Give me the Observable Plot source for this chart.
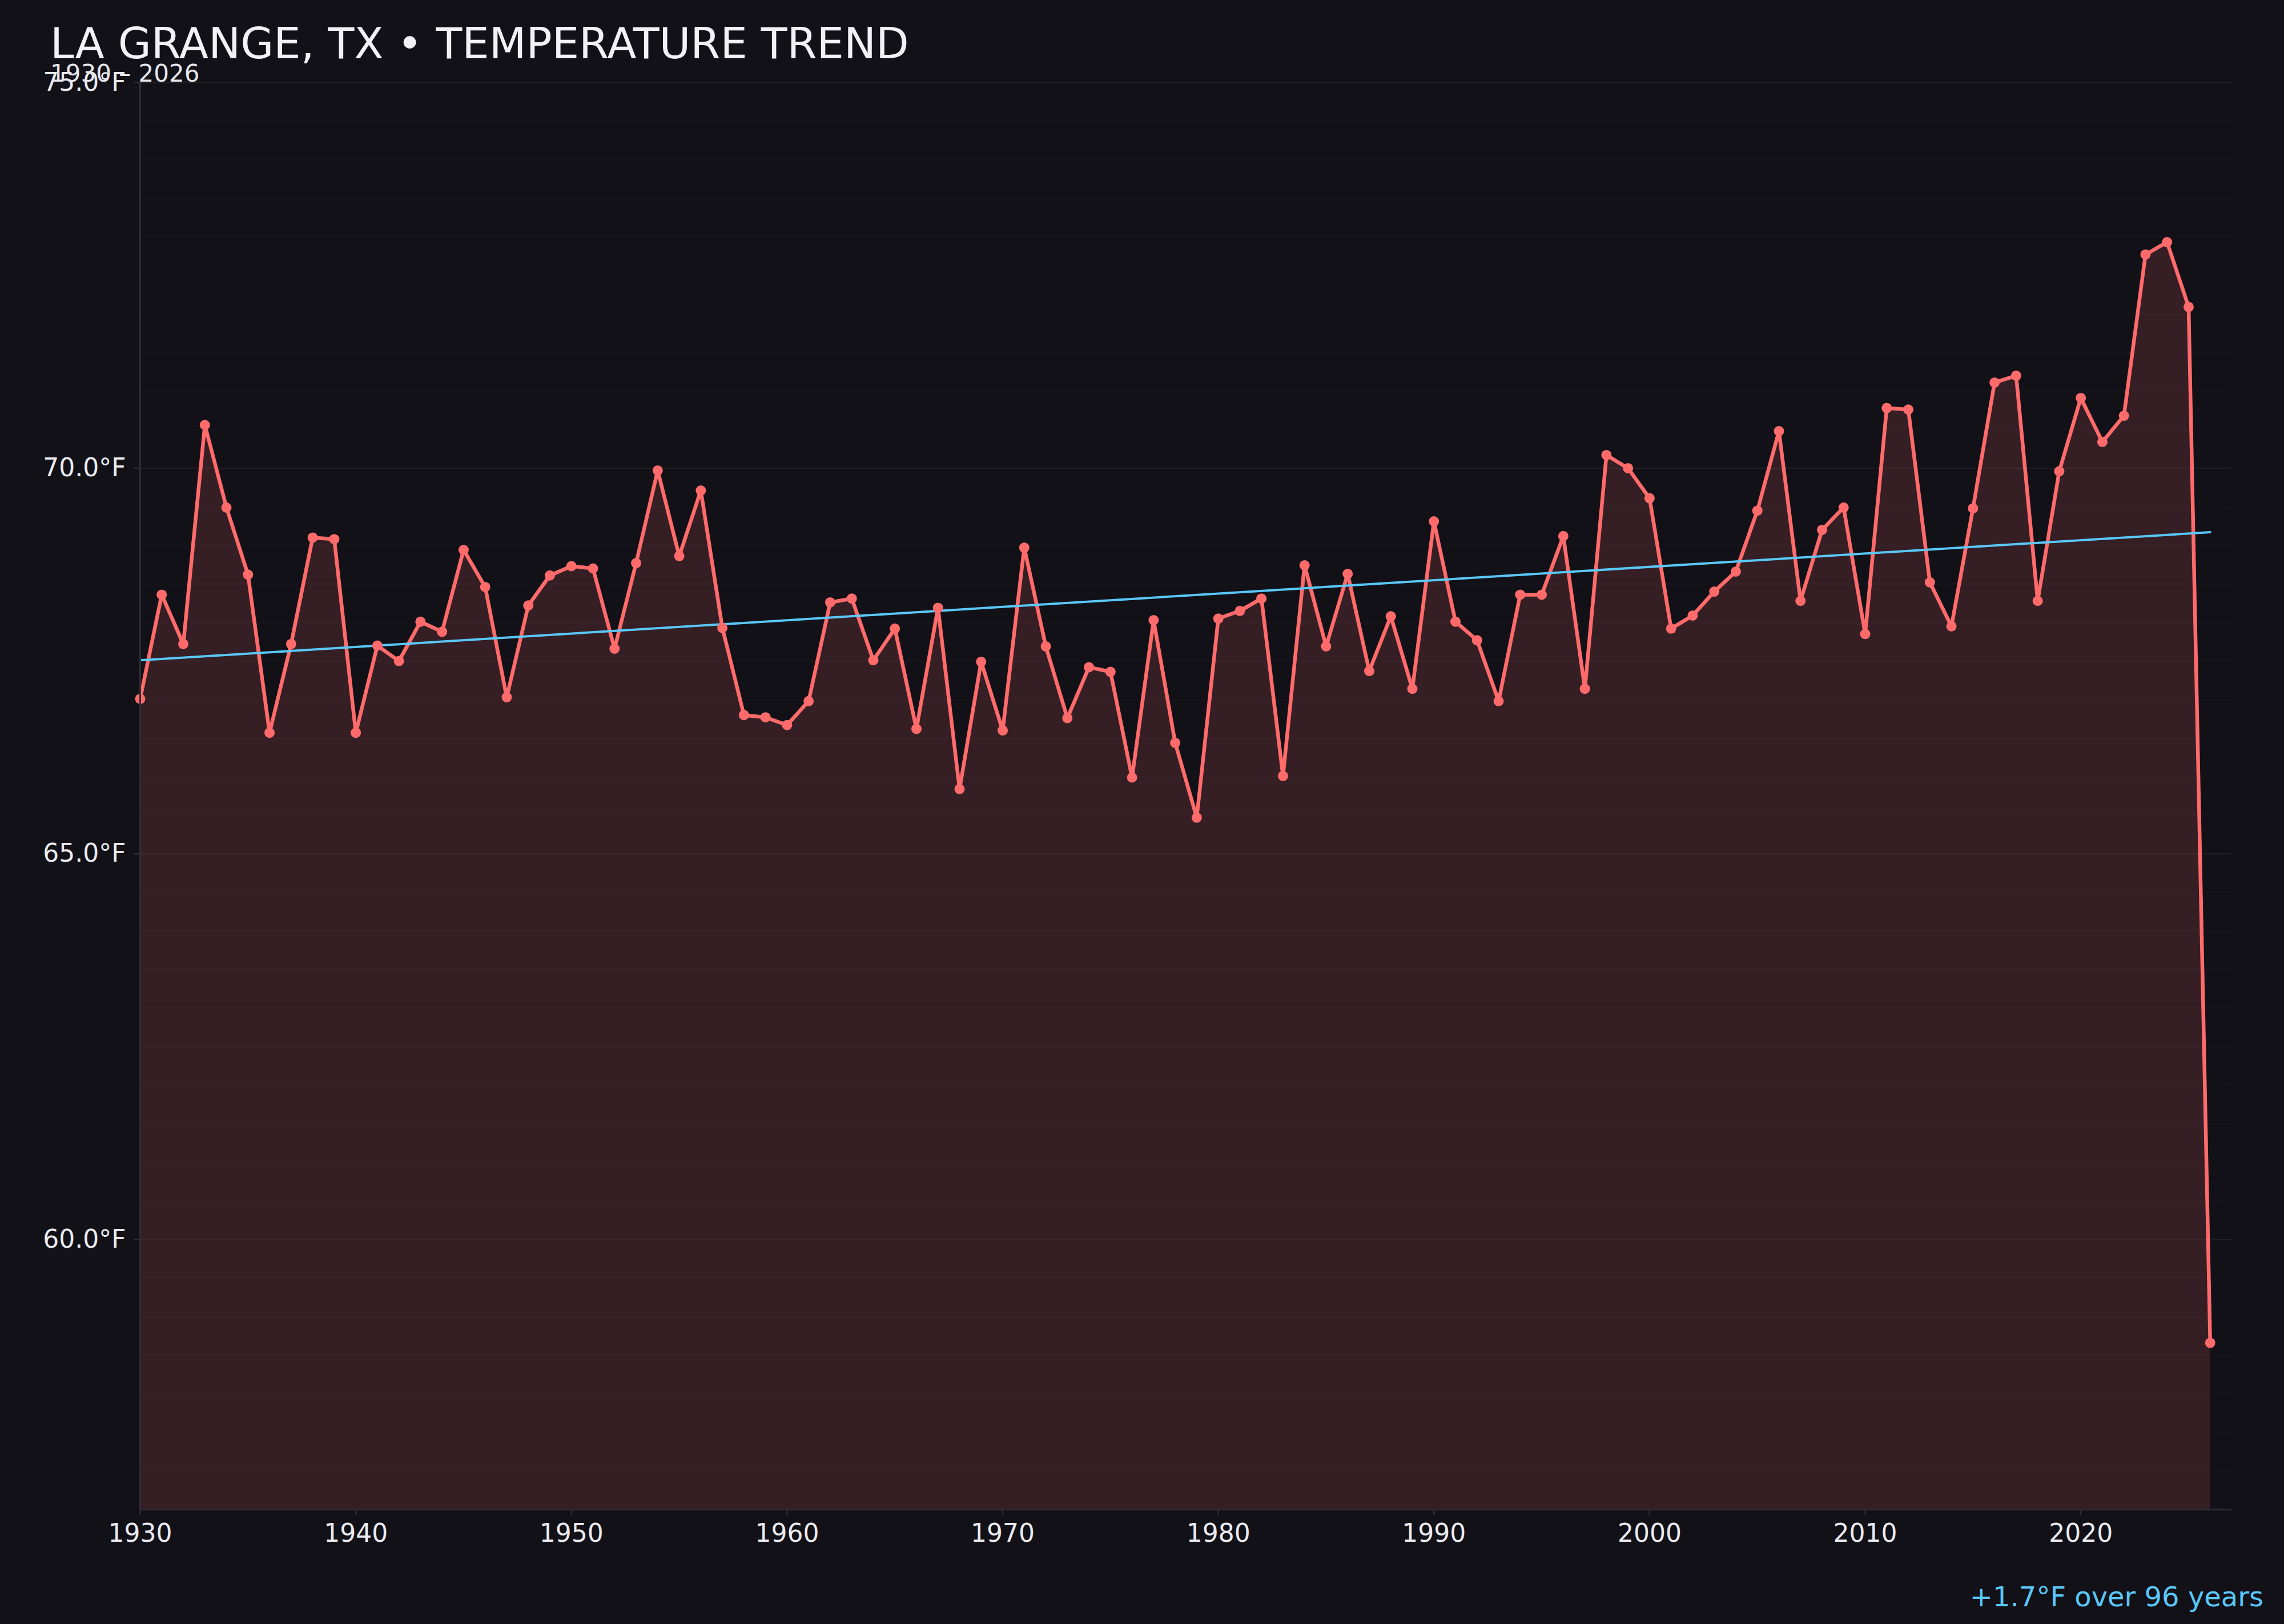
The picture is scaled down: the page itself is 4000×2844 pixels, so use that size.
<!DOCTYPE html>
<html>
<head>
<meta charset="utf-8">
<script src="https://cdn.jsdelivr.net/npm/d3@7"></script>
<script src="https://cdn.jsdelivr.net/npm/@observablehq/plot@0.6"></script>
<style>
  html, body { margin: 0; padding: 0; background: #121118; }
  #wrap { position: relative; width: 4000px; height: 2844px; overflow: hidden; background: #121118; font-family: "DejaVu Sans", sans-serif; }
  #chart { position: absolute; left: 0; top: 0; }
  .title { position: absolute; left: 88px; top: 38.5px; font-size: 75px; line-height: 75px; color: #f2f2f6; white-space: nowrap; }
  .subtitle { position: absolute; left: 88px; top: 107.5px; font-size: 42px; line-height: 42px; color: #e6e6ec; white-space: nowrap; }
  .caption { position: absolute; right: 36px; top: 2772px; font-size: 48px; line-height: 48px; color: #5ac8fa; white-space: nowrap; }
</style>
</head>
<body>
<div id="wrap">
  <div id="chart"></div>
  <div class="title">LA GRANGE, TX • TEMPERATURE TREND</div>
  <div class="subtitle">1930 – 2026</div>
  <div class="caption">+1.7°F over 96 years</div>
</div>
<script>
// ---- data ----
const firstYear = 1930;
const lastYear = 2026;
const temps = [
  67.01, 68.36, 67.72, 70.56, 69.49, 68.62, 66.57, 67.72, 69.10, 69.08, // 1930-1939
  66.57, 67.70, 67.50, 68.01, 67.88, 68.94, 68.46, 67.03, 68.22, 68.61, // 1940-1949
  68.73, 68.70, 67.66, 68.77, 69.97, 68.86, 69.71, 67.93, 66.80, 66.77, // 1950-1959
  66.67, 66.98, 68.26, 68.31, 67.51, 67.92, 66.62, 68.19, 65.84, 67.49, // 1960-1969
  66.60, 68.97, 67.69, 66.76, 67.42, 67.36, 65.99, 68.03, 66.44, 65.47, // 1970-1979
  68.05, 68.15, 68.31, 66.01, 68.74, 67.69, 68.63, 67.37, 68.08, 67.14, // 1980-1989
  69.31, 68.01, 67.77, 66.98, 68.36, 68.36, 69.12, 67.14, 70.17, 70.00, // 1990-1999
  69.61, 67.92, 68.09, 68.40, 68.66, 69.45, 70.48, 68.28, 69.20, 69.49, // 2000-2009
  67.85, 70.78, 70.76, 68.52, 67.95, 69.48, 71.11, 71.20, 68.28, 69.96, // 2010-2019
  70.91, 70.34, 70.68, 72.77, 72.93, 72.09, 58.66                      // 2020-2026
];
const trendYears = [1930, 2026];
const trendTemps = [67.51, 69.17];
const xTicks = [1930, 1940, 1950, 1960, 1970, 1980, 1990, 2000, 2010, 2020];
const yTicks = [60, 65, 70, 75];
const xDomain = [1930, 2027];
const yDomain = [56.5, 75];

// ---- tables built from the arrays ----
const years = d3.range(firstYear, lastYear + 1);
const data = years.map((year, i) => ({year, temp: temps[i]}));
const trend = trendYears.map((year, i) => ({year, temp: trendTemps[i]}));
const minorGrid = d3.range(57, 75.001, 0.5).filter(v => !yTicks.includes(v));

const axisColor = "#2e2d36";
const textColor = "#ebebf0";
const red = "#ff6b6b";

const chart = Plot.plot({
  width: 4000,
  height: 2844,
  marginLeft: 245,
  marginRight: 92,
  marginTop: 144,
  marginBottom: 201,
  style: {background: "transparent", color: textColor, fontFamily: "DejaVu Sans", fontSize: "44px"},
  x: {domain: xDomain},
  y: {domain: yDomain},
  marks: [
    Plot.ruleY(minorGrid, {stroke: "#ffffff", strokeOpacity: 0.018, strokeWidth: 2.5}),
    Plot.ruleY(yTicks, {stroke: "#ffffff", strokeOpacity: 0.055, strokeWidth: 2.5}),
    Plot.areaY(data, {x: "year", y1: yDomain[0], y2: "temp", fill: red, fillOpacity: 0.15, curve: "linear"}),
    Plot.line(data, {x: "year", y: "temp", stroke: red, strokeWidth: 6.5}),
    Plot.line(trend, {x: "year", y: "temp", stroke: "#5ac8fa", strokeWidth: 4}),
    Plot.dot(data, {x: "year", y: "temp", r: 9, fill: red, stroke: "none"}),
    Plot.ruleX([xDomain[0]], {stroke: axisColor, strokeWidth: 3}),
    Plot.ruleY([yDomain[0]], {stroke: axisColor, strokeWidth: 3}),
    Plot.axisX({ticks: xTicks, tickFormat: d => String(d), tickSize: 10, tickPadding: 15,
      stroke: axisColor, strokeWidth: 2.5, fill: textColor, fontSize: 44, label: null}),
    Plot.axisY({ticks: yTicks, tickFormat: d => d.toFixed(1) + "°F", tickSize: 10, tickPadding: 15,
      stroke: axisColor, strokeWidth: 2.5, fill: textColor, fontSize: 44, label: null})
  ]
});
document.getElementById("chart").appendChild(chart);
</script>
</body>
</html>
